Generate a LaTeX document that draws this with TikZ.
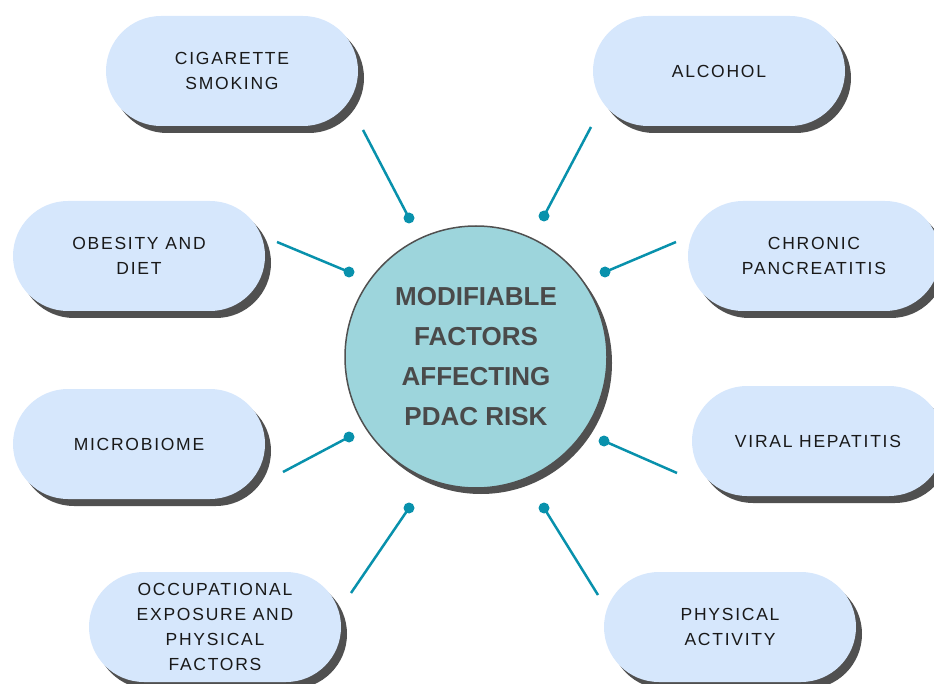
\documentclass[tikz,border=0pt]{standalone}
\usepackage{fontspec}
\setmainfont{Liberation Sans}
\newfontfamily\facteurfont[LetterSpace=10]{Liberation Sans}
\usepackage{tikz}
\usetikzlibrary{shadows}
\definecolor{bleupilule}{RGB}{214,231,252}
\definecolor{ombrepilule}{RGB}{80,80,80}
\definecolor{turquoise}{RGB}{157,213,220}
\definecolor{sarcelle}{RGB}{8,145,172}
\definecolor{grisfonce}{RGB}{74,74,74}
\definecolor{encre}{RGB}{25,25,25}

\begin{document}
\begin{tikzpicture}[x=1pt,y=-1pt]
% définition des paramètres
\tikzstyle pilulefacteur=[rectangle,rounded corners=55pt,minimum width=252pt,minimum height=110pt,
  fill=bleupilule,text=encre,align=center,inner sep=0pt,
  font=\facteurfont\fontsize{17.5}{25}\selectfont,
  drop shadow={shadow xshift=6pt,shadow yshift=-7pt,fill=ombrepilule,opacity=1}]
\tikzstyle centrefacteur=[circle,minimum size=262pt,fill=turquoise,draw=ombrepilule,line width=1.5pt,
  text=grisfonce,align=center,inner sep=0pt,
  font=\bfseries\fontsize{26}{40}\selectfont,
  drop shadow={shadow xshift=5pt,shadow yshift=-6pt,fill=ombrepilule,opacity=1}]
\tikzstyle lienfacteur=[color=sarcelle,line width=2.5pt]
\tikzstyle pointfacteur=[circle,fill=sarcelle,inner sep=0pt,minimum size=11pt]
% le cadre
\clip (0,0) rectangle (934,684);
% le cercle
\node[centrefacteur] (centre) at (476,357) {MODIFIABLE\\FACTORS\\AFFECTING\\PDAC RISK};
% les pilules
\node[pilulefacteur] (tabac) at (232,71) {CIGARETTE\\SMOKING};
\node[pilulefacteur] (alcool) at (719,71) {ALCOHOL};
\node[pilulefacteur] (obesite) at (139,256) {OBESITY AND\\DIET};
\node[pilulefacteur] (pancreas) at (814,256) {CHRONIC\\PANCREATITIS};
\node[pilulefacteur] (microbiome) at (139,444) {MICROBIOME};
\node[pilulefacteur] (hepatite) at (818,441) {VIRAL HEPATITIS};
\node[pilulefacteur] (travail) at (215,627) {OCCUPATIONAL\\EXPOSURE AND\\PHYSICAL\\FACTORS};
\node[pilulefacteur] (activite) at (730,627) {PHYSICAL\\ACTIVITY};
% les points
\node[pointfacteur] (ptabac) at (409,218) {};
\node[pointfacteur] (palcool) at (544,216) {};
\node[pointfacteur] (pobesite) at (349,272) {};
\node[pointfacteur] (ppancreas) at (605,272) {};
\node[pointfacteur] (pmicrobiome) at (349,437) {};
\node[pointfacteur] (phepatite) at (604,441) {};
\node[pointfacteur] (ptravail) at (409,508) {};
\node[pointfacteur] (pactivite) at (544,508) {};
% les bouts libres
\coordinate (btabac) at (363,130);
\coordinate (balcool) at (591,127);
\coordinate (bobesite) at (277,242);
\coordinate (bpancreas) at (676,242);
\coordinate (bmicrobiome) at (283,472);
\coordinate (bhepatite) at (677,473);
\coordinate (btravail) at (351,593);
\coordinate (bactivite) at (598,595);
% les liens
\foreach \f in {tabac,alcool,obesite,pancreas,microbiome,hepatite,travail,activite}
    \draw[lienfacteur] (b\f) -- (p\f.center);
\end{tikzpicture}
\end{document}
